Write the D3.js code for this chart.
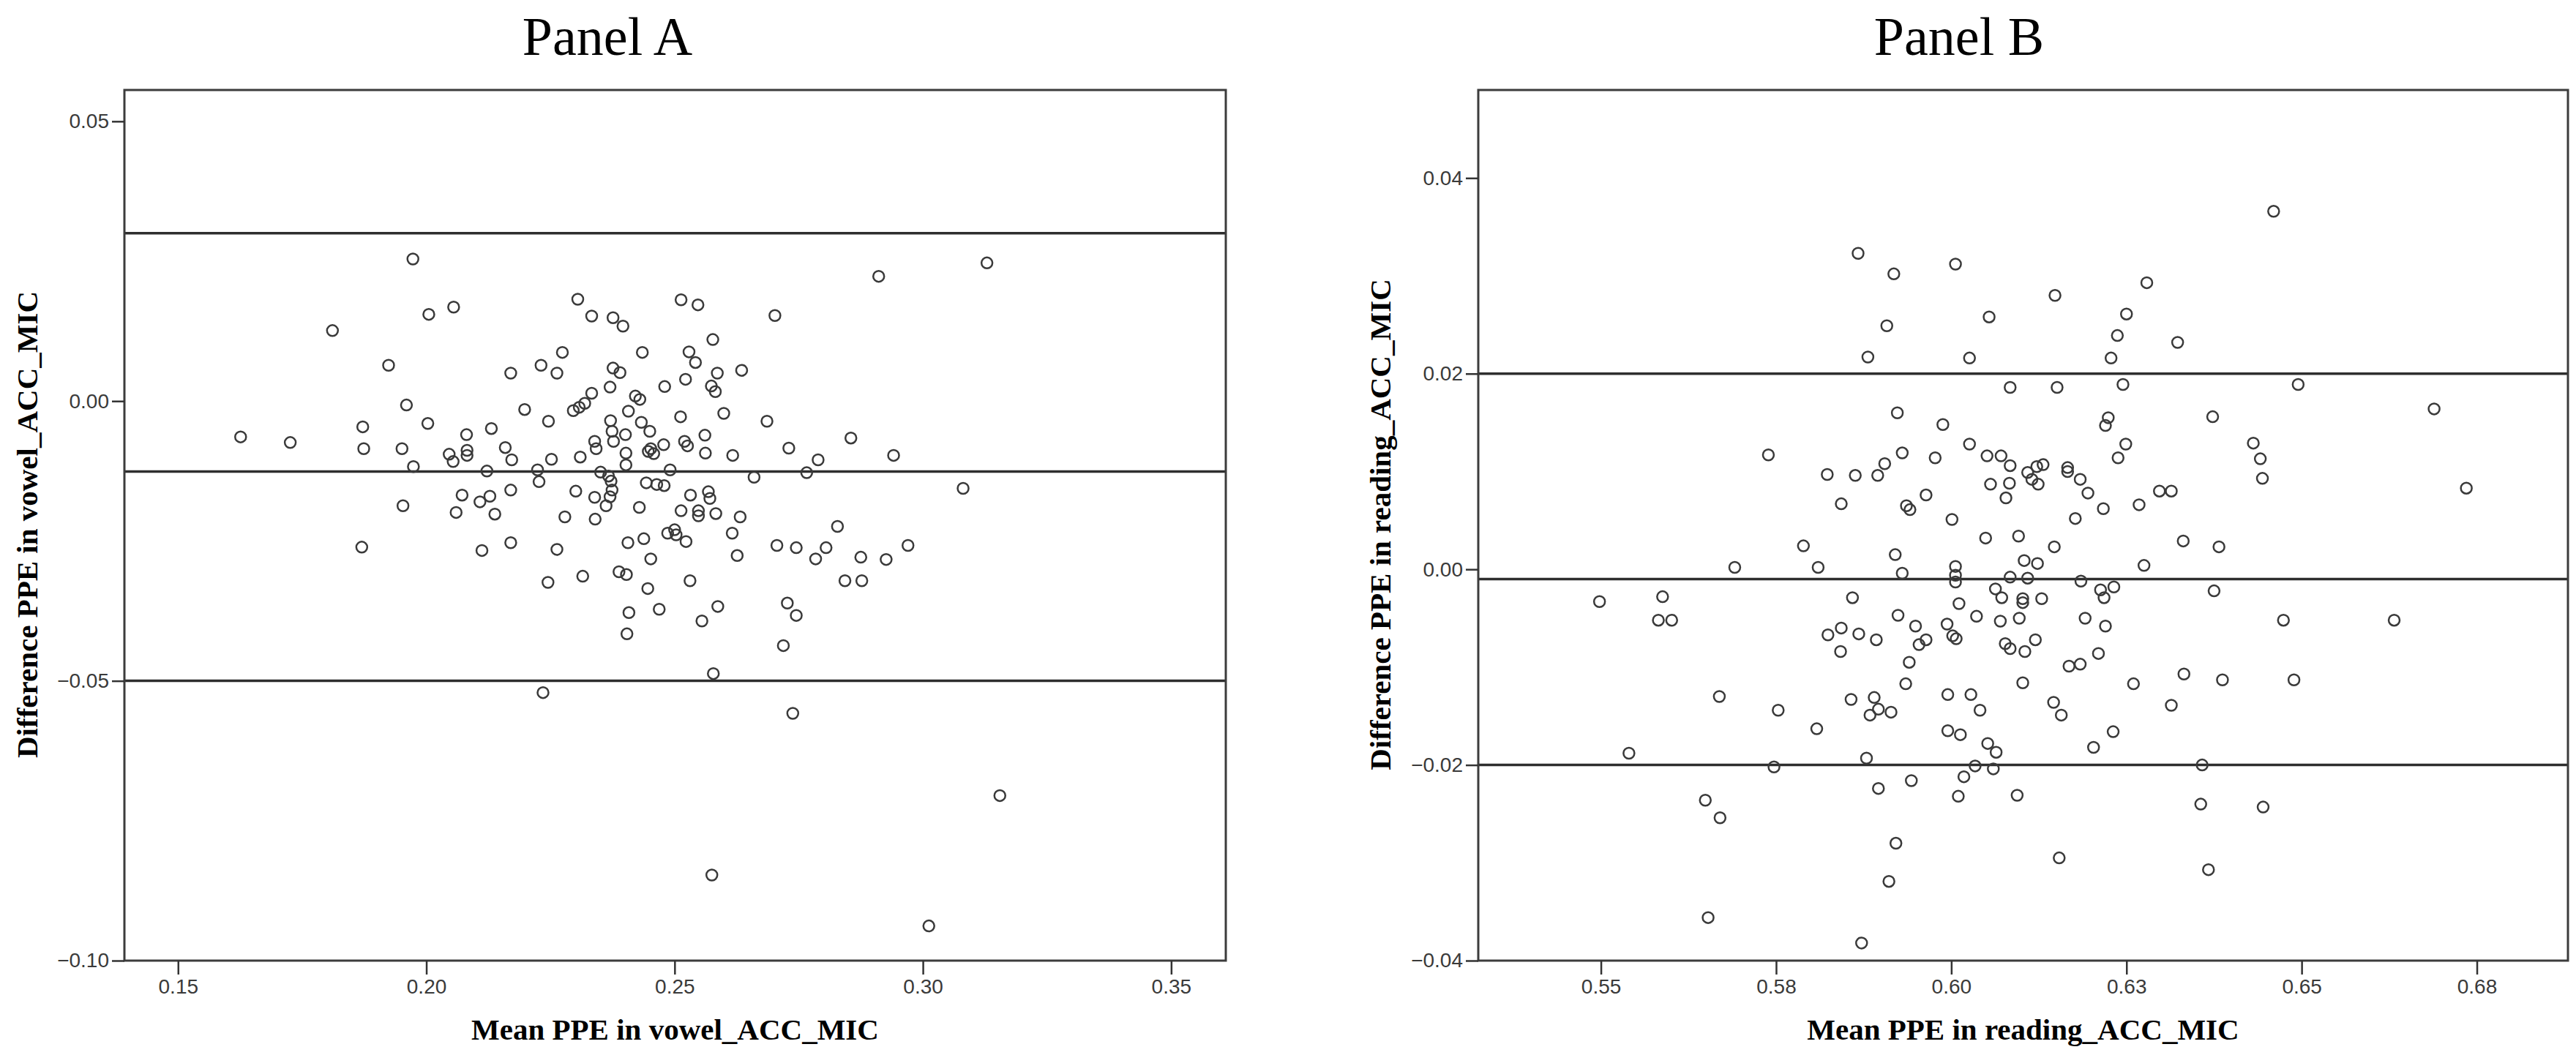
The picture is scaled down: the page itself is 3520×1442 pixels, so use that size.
<!DOCTYPE html>
<html><head><meta charset="utf-8">
<script src="https://cdn.jsdelivr.net/npm/d3@7"></script>
<style>html,body{margin:0;padding:0;background:#fff;} svg{display:block;}</style>
</head><body>
<svg id="chart" width="3520" height="1442"></svg>
<script>
// ---------- DATA ----------
const meanA = [
0.1973,0.1811,0.2005,0.2055,0.2305,0.2333,0.2376,0.2396,0.1924,0.2274,
0.2170,0.2231,0.2263,0.2376,0.2390,0.2370,0.2333,0.2319,0.2308,0.2296,
0.2198,0.2246,0.1960,0.2003,0.1872,0.1626,0.1726,0.1874,0.1951,0.2081,
0.2131,0.2159,0.2172,0.2046,0.2054,0.2082,0.2082,0.1974,0.2122,0.2224,
0.2227,0.2252,0.2310,0.2339,0.2342,0.2371,0.2374,0.2377,0.2407,0.2401,
0.2402,0.2402,0.2351,0.2367,0.2372,0.2374,0.2370,0.2362,0.2339,0.2340,
0.2301,0.2279,0.2170,0.2128,0.2108,0.2072,0.2060,0.2138,0.1953,0.1870,
0.2112,0.2170,0.2263,0.2406,0.2245,0.2315,0.2388,0.2403,0.2408,0.2404,
0.2235,
0.2435,0.2513,0.2547,0.2702,0.2911,0.3129,0.2577,0.2529,0.2542,0.2586,
0.2635,0.2522,0.2480,0.2574,0.2582,0.2421,0.2430,0.2512,0.2599,0.2686,
0.2433,0.2450,0.2478,0.2452,0.2458,0.2447,0.2520,0.2526,0.2561,0.2562,
0.2617,0.2730,0.2855,0.2941,0.2789,0.2766,0.2660,0.2491,0.2443,0.2464,
0.2479,0.3081,0.2532,0.2568,0.2571,0.2429,0.2513,0.2548,0.2548,0.2583,
0.2632,0.2828,0.2616,0.2486,0.2500,0.2503,0.2523,0.2438,0.2706,0.2745,
0.2805,0.2784,0.2875,0.2926,0.2970,0.2626,0.2452,0.2531,0.2446,0.2843,
0.2877,0.2469,0.2587,0.2555,0.2727,0.2745,0.2719,0.2578,0.2738,
0.2575,0.3012,0.3155
];
const diffA = [
0.0254,0.0126,0.0155,0.0168,0.0182,0.0152,0.0149,0.0134,0.0064,0.0087,
0.0050,0.0064,0.0050,0.0059,0.0051,0.0025,0.0014,-0.0004,-0.0011,-0.0017,
-0.0015,-0.0036,-0.0007,-0.0040,-0.0046,-0.0064,-0.0074,-0.0085,-0.0085,-0.0060,
-0.0049,-0.0083,-0.0105,-0.0095,-0.0108,-0.0088,-0.0097,-0.0117,-0.0125,-0.0123,
-0.0144,-0.0104,-0.0100,-0.0072,-0.0085,-0.0035,-0.0054,-0.0072,-0.0018,-0.0060,
-0.0093,-0.0114,-0.0127,-0.0134,-0.0143,-0.0159,-0.0171,-0.0187,-0.0172,-0.0211,
-0.0161,-0.0207,-0.0159,-0.0170,-0.0180,-0.0168,-0.0199,-0.0202,-0.0187,-0.0261,
-0.0267,-0.0253,-0.0265,-0.0253,-0.0324,-0.0313,-0.0305,-0.0310,-0.0378,-0.0416,
-0.0521,
0.0087,0.0181,0.0172,0.0153,0.0223,0.0247,0.0110,0.0088,0.0069,0.0050,
0.0055,0.0039,0.0026,0.0027,0.0017,0.0009,0.0003,-0.0028,-0.0022,-0.0036,
-0.0038,-0.0054,-0.0078,-0.0085,-0.0094,-0.0090,-0.0072,-0.0080,-0.0061,-0.0093,
-0.0097,-0.0084,-0.0066,-0.0097,-0.0105,-0.0128,-0.0136,-0.0123,-0.0146,-0.0149,
-0.0151,-0.0156,-0.0168,-0.0162,-0.0174,-0.0190,-0.0196,-0.0196,-0.0205,-0.0201,
-0.0207,-0.0224,-0.0236,-0.0236,-0.0230,-0.0239,-0.0251,-0.0246,-0.0258,-0.0262,
-0.0262,-0.0282,-0.0279,-0.0283,-0.0258,-0.0276,-0.0282,-0.0321,-0.0335,-0.0321,
-0.0321,-0.0372,-0.0367,-0.0393,-0.0361,-0.0383,-0.0437,-0.0487,-0.0558,
-0.0847,-0.0938,-0.0705
];
const meanB = [
0.5867,0.5918,0.6006,0.6148,0.6054,0.5908,0.5881,0.6026,0.6084,0.6151,
0.5923,0.5988,0.5739,0.6026,0.5930,0.5905,0.5977,0.6051,0.6071,0.6084,
0.5823,0.5863,0.5895,0.6109,0.6122,0.6131,0.6115,0.6124,0.6056,0.6083,
0.6078,0.5843,0.5936,0.5941,0.5964,0.6001,0.6049,0.6096,0.6147,0.5789,
0.5920,0.6104,0.6123,
0.6460,0.6279,0.6250,0.6237,0.6323,0.6228,0.6245,0.6495,0.6689,0.6373,
0.6224,0.6220,0.6249,0.6238,0.6431,0.6441,0.6444,0.6735,0.6166,0.6166,
0.6184,0.6195,0.6297,0.6314,0.6268,0.6217,0.6177,0.6331,0.6382,0.6275,
0.5691,0.5810,0.5930,0.6006,0.6006,0.6006,0.5498,0.5588,0.5582,0.5601,
0.5859,0.5924,0.5949,0.5843,0.5824,0.5868,0.5893,0.5842,0.5964,0.5954,
0.5994,0.6002,0.6007,0.6011,0.6036,0.5940,0.5935,0.6063,0.6072,0.6084,
0.6109,0.6102,0.6102,0.6129,0.6070,0.6097,0.6077,0.6084,0.6105,0.6120,
0.6102,0.5995,0.6028,0.6041,0.5669,0.5753,0.5808,0.5857,0.5890,0.5896,
0.5884,0.5914,0.5995,0.6013,0.6052,0.6064,0.5879,0.5540,0.5747,0.6034,
0.6018,0.6060,0.5896,0.5943,0.6010,0.6094,0.5649,0.5670,0.5921,0.5911,
0.5653,0.5872,
0.6185,0.6213,0.6232,0.6218,0.6375,0.6191,0.6220,0.6474,0.6632,0.6210,
0.6168,0.6184,0.6260,0.6332,0.6387,0.6489,0.6314,0.6146,0.6157,0.6231,
0.6203,0.6358,0.6356,0.6445,0.6154,0.6367
];
const diffB = [
0.0323,0.0302,0.0312,0.0280,0.0258,0.0249,0.0217,0.0216,0.0186,0.0186,
0.0160,0.0148,0.0117,0.0128,0.0119,0.0108,0.0114,0.0116,0.0116,0.0106,
0.0097,0.0096,0.0096,0.0099,0.0105,0.0107,0.0092,0.0087,0.0087,0.0088,
0.0073,0.0067,0.0065,0.0061,0.0076,0.0051,0.0032,0.0034,0.0023,0.0024,
0.0015,0.0009,0.0006,
0.0366,0.0293,0.0261,0.0239,0.0232,0.0216,0.0189,0.0189,0.0164,0.0156,
0.0155,0.0147,0.0128,0.0114,0.0129,0.0113,0.0093,0.0083,0.0104,0.0100,
0.0092,0.0078,0.0080,0.0080,0.0066,0.0062,0.0052,0.0029,0.0023,0.0004,
0.0002,0.0002,-0.0004,0.0003,-0.0006,-0.0013,-0.0033,-0.0028,-0.0052,-0.0052,
-0.0029,-0.0047,-0.0058,-0.0060,-0.0067,-0.0066,-0.0072,-0.0084,-0.0072,-0.0077,
-0.0056,-0.0068,-0.0071,-0.0035,-0.0048,-0.0095,-0.0117,-0.0020,-0.0029,-0.0008,
-0.0009,-0.0030,-0.0034,-0.0030,-0.0053,-0.0050,-0.0076,-0.0081,-0.0084,-0.0072,
-0.0116,-0.0128,-0.0128,-0.0144,-0.0130,-0.0144,-0.0163,-0.0133,-0.0131,-0.0143,
-0.0149,-0.0146,-0.0165,-0.0169,-0.0178,-0.0187,-0.0193,-0.0188,-0.0202,-0.0201,
-0.0212,-0.0204,-0.0224,-0.0216,-0.0232,-0.0231,-0.0236,-0.0254,-0.0280,-0.0319,
-0.0356,-0.0382,
-0.0012,-0.0021,-0.0018,-0.0029,-0.0022,-0.0050,-0.0058,-0.0052,-0.0052,-0.0086,
-0.0099,-0.0097,-0.0117,-0.0107,-0.0113,-0.0113,-0.0139,-0.0136,-0.0149,-0.0166,
-0.0182,-0.0200,-0.0240,-0.0243,-0.0295,-0.0307
];
const refLinesA = [0.030, -0.0126, -0.050];
const refLinesB = [0.020, -0.0010, -0.020];

const xTicksA = [0.15, 0.20, 0.25, 0.30, 0.35];
const xTickLabelsA = ["0.15", "0.20", "0.25", "0.30", "0.35"];
const yTicksA = [-0.10, -0.05, 0.00, 0.05];
const yTickLabelsA = ["\u22120.10", "\u22120.05", "0.00", "0.05"];
const xTicksB = [0.55, 0.575, 0.60, 0.625, 0.65, 0.675];
const xTickLabelsB = ["0.55", "0.58", "0.60", "0.63", "0.65", "0.68"];
const yTicksB = [-0.04, -0.02, 0.00, 0.02, 0.04];
const yTickLabelsB = ["\u22120.04", "\u22120.02", "0.00", "0.02", "0.04"];

const xDomainA = [0.1392, 0.3610];
const yDomainA = [-0.10, 0.0556];
const xDomainB = [0.5325, 0.6880];
const yDomainB = [-0.04, 0.049];

const panelTitles = ["Panel A", "Panel B"];
const xTitles = ["Mean PPE in vowel_ACC_MIC", "Mean PPE in reading_ACC_MIC"];
const yTitles = ["Difference PPE in vowel_ACC_MIC", "Difference PPE in reading_ACC_MIC"];

// ---------- LAYOUT ----------
const panels = [
  {mean: meanA, diff: diffA, refs: refLinesA, xt: xTicksA, xl: xTickLabelsA, yt: yTicksA, yl: yTickLabelsA,
   xd: xDomainA, yd: yDomainA, title: panelTitles[0], xTitle: xTitles[0], yTitle: yTitles[0],
   left: 170, right: 1675, top: 123, bottom: 1313, titleX: 830, yTitleX: 51},
  {mean: meanB, diff: diffB, refs: refLinesB, xt: xTicksB, xl: xTickLabelsB, yt: yTicksB, yl: yTickLabelsB,
   xd: xDomainB, yd: yDomainB, title: panelTitles[1], xTitle: xTitles[1], yTitle: yTitles[1],
   left: 2020, right: 3509, top: 123, bottom: 1313, titleX: 2677, yTitleX: 1900}
];

const svg = d3.select("#chart");
svg.append("rect").attr("width", 3520).attr("height", 1442).attr("fill", "#fff");

const serif = "'Liberation Serif','Times New Roman',Times,serif";
const sans = "'Liberation Sans',Arial,Helvetica,sans-serif";

panels.forEach(p => {
  const x = d3.scaleLinear().domain(p.xd).range([p.left, p.right]);
  const y = d3.scaleLinear().domain(p.yd).range([p.bottom, p.top]);
  const g = svg.append("g");

  // title
  g.append("text").attr("x", p.titleX).attr("y", 75).attr("text-anchor", "middle")
    .attr("font-family", serif).attr("font-size", 74).attr("fill", "#000").text(p.title);

  // reference lines
  g.selectAll("line.ref").data(p.refs).enter().append("line").attr("class", "ref")
    .attr("x1", p.left).attr("x2", p.right)
    .attr("y1", d => y(d)).attr("y2", d => y(d))
    .attr("stroke", "#2e2e2e").attr("stroke-width", 3.5);

  // points
  g.selectAll("circle").data(p.mean.map((m, i) => [m, p.diff[i]])).enter().append("circle")
    .attr("cx", d => x(d[0])).attr("cy", d => y(d[1])).attr("r", 7.5)
    .attr("fill", "none").attr("stroke", "#3a3a3a").attr("stroke-width", 2.5);

  // frame
  g.append("rect").attr("x", p.left).attr("y", p.top)
    .attr("width", p.right - p.left).attr("height", p.bottom - p.top)
    .attr("fill", "none").attr("stroke", "#3c3c3c").attr("stroke-width", 3);

  // axes
  const yAxis = d3.axisLeft(y).tickValues(p.yt).tickFormat((d, i) => p.yl[i])
    .tickSize(17).tickSizeOuter(0).tickPadding(4);
  const ya = g.append("g").attr("transform", `translate(${p.left},0)`).call(yAxis);
  const xAxis = d3.axisBottom(x).tickValues(p.xt).tickFormat((d, i) => p.xl[i])
    .tickSize(19).tickSizeOuter(0).tickPadding(6);
  const xa = g.append("g").attr("transform", `translate(0,${p.bottom})`).call(xAxis);
  [ya, xa].forEach(a => {
    a.select(".domain").remove();
    a.selectAll(".tick line").attr("stroke", "#333").attr("stroke-width", 2.5);
    a.selectAll(".tick text").attr("font-family", sans).attr("font-size", 28).attr("fill", "#3a3a3a");
  });

  // axis titles
  g.append("text").attr("x", (p.left + p.right) / 2).attr("y", 1421).attr("text-anchor", "middle")
    .attr("font-family", serif).attr("font-weight", "bold").attr("font-size", 41).attr("fill", "#000")
    .text(p.xTitle);
  g.append("text").attr("transform", `translate(${p.yTitleX},717) rotate(-90)`).attr("text-anchor", "middle")
    .attr("font-family", serif).attr("font-weight", "bold").attr("font-size", 41).attr("fill", "#000")
    .text(p.yTitle);
});
</script>
</body></html>
